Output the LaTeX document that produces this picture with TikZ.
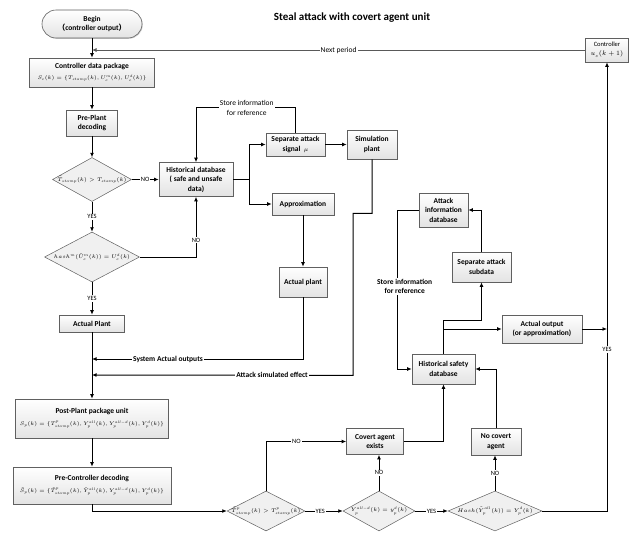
\documentclass[tikz,border=0pt]{standalone}
\usepackage{fix-cm}
\usepackage{fontspec}
\setmainfont{Carlito}
\newfontfamily\cjk{Noto Sans CJK SC}
\usetikzlibrary{arrows.meta,shapes.geometric,shadows}

\newcommand{\condtxt}[1]{\makebox[0pt]{$#1$}}
\newcommand{\formsz}{\fontsize{5.2}{7}\selectfont}

\tikzset{
    box/.style={draw=gray!75!black, line width=0.6pt, top color=white, bottom color=gray!22,
        align=center, inner sep=0pt, font=\fontsize{7.5}{9.5}\selectfont\bfseries,
        drop shadow={shadow xshift=0.8pt, shadow yshift=-0.8pt, opacity=0.35, fill=gray}},
    dec/.style={diamond, draw=gray!75!black, line width=0.5pt, fill=gray!12,
        inner sep=0pt, font=\fontsize{5.3}{7}\selectfont},
    link/.style={line width=1pt, -{Latex[length=4.5pt,width=4pt]}},
    plain/.style={line width=1pt},
    lbl/.style={fill=white, inner sep=1pt, align=center, font=\fontsize{6.5}{8}\selectfont},
    boldlbl/.style={lbl, font=\fontsize{7.5}{9.5}\selectfont\bfseries},
    nextline/.style={draw=gray!70!black, line width=0.8pt}
}

\begin{document}
\begin{tikzpicture}[x=1pt,y=-1pt]
    \useasboundingbox (0,0) rectangle (633,536);
    \node[font=\fontsize{11}{13}\selectfont\bfseries] (title) at (352,18) {Steal attack with covert agent unit};

    % left column
    \node[box, minimum width=100pt, minimum height=28pt, rounded corners=14pt] (begin) at (92,24)
        {Begin\\{\cjk （}controller output{\cjk ）}};
    \node[box, minimum width=125pt, minimum height=29pt] (cdp) at (92,72.5)
        {Controller data package\\[1pt]{\formsz$S_c(k)=\{T_{stamp}(k),U_c^{m}(k),U_c^{d}(k)\}$}};
    \node[box, minimum width=51pt, minimum height=26pt] (ppd) at (92,123) {Pre-Plant\\decoding};
    \node[dec, minimum width=79pt, minimum height=44pt] (d1) at (92,179.5)
        {\condtxt{\tilde{T}_{stamp}(k)>T_{stamp}(k)}};
    \node[dec, minimum width=95pt, minimum height=50pt] (d2) at (92,257)
        {\condtxt{hash^{m}(\tilde{U}_c^{m}(k))=U_c^{d}(k)}};
    \node[box, minimum width=65pt, minimum height=17pt] (aplant) at (92,323.5) {Actual Plant};
    \node[box, minimum width=153pt, minimum height=39pt] (ppu) at (92,418.5)
        {Post-Plant package unit\\[2pt]{\formsz$S_p(k)=\{T^{p}_{stamp}(k),Y_p^{all}(k),Y_p^{all-d}(k),Y_p^{d}(k)\}$}};
    \node[box, minimum width=158pt, minimum height=37pt] (pcd) at (92,485.5)
        {Pre-Controller decoding\\[2pt]{\formsz$\tilde{S}_p(k)=\{\tilde{T}^{p}_{stamp}(k),\tilde{Y}_p^{all}(k),Y_p^{all-d}(k),Y_p^{d}(k)\}$}};

    % middle
    \node[box, minimum width=74pt, minimum height=34pt] (hdb) at (196,179.5)
        {Historical database\\( safe and unsafe\\data)};
    \node[box, minimum width=59pt, minimum height=23pt] (sas) at (295.5,144.5)
        {Separate attack\\signal~~{\fontsize{6}{7}\selectfont$\mu$}};
    \node[box, minimum width=50pt, minimum height=29pt] (simp) at (372,144.5) {Simulation\\plant};
    \node[box, minimum width=62pt, minimum height=22pt] (approx) at (303,204) {Approximation};
    \node[box, minimum width=48pt, minimum height=30pt] (actp) at (303,282) {Actual plant};

    % right side
    \node[box, minimum width=43pt, minimum height=24pt, font=\fontsize{6.5}{9}\selectfont] (ctrl) at (607,50)
        {Controller\\$u_c(k+1)$};
    \node[box, minimum width=49pt, minimum height=34pt] (aidb) at (443.5,210) {Attack\\information\\database};
    \node[box, minimum width=59pt, minimum height=30pt] (sasub) at (481.5,267) {Separate attack\\subdata};
    \node[box, minimum width=80pt, minimum height=28pt] (aout) at (542,329) {Actual output\\(or approximation)};
    \node[box, minimum width=63pt, minimum height=30pt] (hsd) at (443.5,369) {Historical safety\\database};
    \node[box, minimum width=57pt, minimum height=26pt] (cae) at (375,441.5) {Covert agent\\exists};
    \node[box, minimum width=50pt, minimum height=27pt] (nca) at (496,441.5) {No covert\\agent};

    % bottom row of checks
    \node[dec, minimum width=78pt, minimum height=40pt] (d3) at (266,511)
        {\condtxt{\tilde{T}^{p}_{stamp}(k)>T^{p}_{stamp}(k)}};
    \node[dec, minimum width=72pt, minimum height=40pt] (d4) at (379,511)
        {\condtxt{Y_p^{all-d}(k)=y_p^{d}(k)}};
    \node[dec, minimum width=94pt, minimum height=40pt] (d5) at (495,511)
        {\condtxt{Hash(\tilde{Y}_p^{all}(k))=Y_p^{d}(k)}};

    % connectors, left column
    \draw[link] (begin) -- (cdp);
    \draw[link] (cdp) -- (ppd);
    \draw[link] (ppd) -- (d1);
    \draw[link] (d1) -- node[lbl] (no1) {NO} (hdb);
    \draw[link] (d1) -- node[lbl] (yes1) {YES} (d2);
    \draw[link] (d2.east) -| node[lbl, pos=0.64] (no2) {NO} (hdb.south);
    \draw[link] (d2) -- node[lbl] (yes2) {YES} (aplant);
    \draw[link] (aplant) -- (ppu);
    \draw[link] (ppu) -- (pcd);
    \draw[link] (pcd.south) |- (d3.west);
    \draw[link, nextline] (ctrl.west) -- node[lbl, font=\fontsize{7.5}{9}\selectfont] (nplbl) {Next period}
        (ctrl.west -| begin.south);

    % connectors, middle
    \coordinate (split) at (249,179.5);
    \coordinate (sao) at (92,359);
    \coordinate (ase) at (92,375);
    \draw[plain] (hdb.east) -- (split);
    \draw[link] (split) |- (sas.west);
    \draw[link] (split) |- (approx.west);
    \draw[link] (sas.north) -- ++(0,-25) -| node[lbl, pos=0.245, font=\fontsize{7.5}{9.5}\selectfont] (stlbl1)
        {Store information\\for reference} (hdb.north);
    \draw[link] (sas) -- (simp);
    \draw[link] (approx) -- (actp);
    \draw[link] (actp.south) |- node[boldlbl, pos=0.82] (saolbl) {System Actual outputs} (sao);
    \draw[link] (simp.south) -- ++(0,54) -- ++(-19,0) -- ++(0,162)
        -- node[boldlbl, pos=0.31] (aselbl) {Attack simulated effect} (ase);

    % connectors, right side
    \draw[link] (d3.north) |- node[lbl, pos=0.69] (no3) {NO} (cae.west);
    \draw[link] (d3) -- node[lbl, pos=0.4] (yes3) {YES} (d4);
    \draw[link] (d4.north) -- node[lbl] (no4) {NO} (d4.north |- cae.south);
    \draw[link] (d4) -- node[lbl] (yes4) {YES} (d5);
    \draw[link] (d5.north) -- node[lbl] (no5) {NO} (d5.north |- nca.south);
    \draw[link] (nca.north) |- (hsd.east);
    \draw[link] (cae.east) -| (hsd.south);
    \draw[link] (hsd.north) |- (aout.west);
    \draw[link] (hsd.north) -- ++(0,-33) -| (sasub.south);
    \draw[link] (sasub.north) |- (aidb.east);
    \draw[link] (aidb.west) -- ++(-21,0) |- node[boldlbl, pos=0.24, xshift=7pt] (stlbl2)
        {Store information\\for reference} (hsd.west);
    \draw[link] (d5.east) -| node[lbl, pos=0.68] (yes5) {YES} (ctrl.south);
    \draw[link] (aout.east) -- (aout.east -| ctrl.south);
\end{tikzpicture}
\end{document}
